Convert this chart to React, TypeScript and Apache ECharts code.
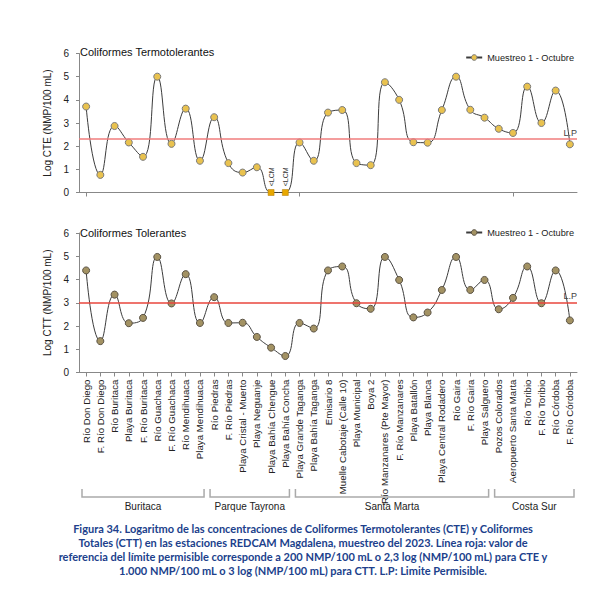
import React, { useEffect, useRef } from "react";
import * as echarts from "echarts";

const categories = [
  "Río Don Diego", "F. Río Don Diego", "Río Buritaca", "Playa Buritaca", "F. Río Buritaca",
  "Río Guachaca", "F. Río Guachaca", "Río Mendihuaca", "Playa Mendihuaca",
  "Río Piedras", "F. Río Piedras", "Playa Cristal - Muerto", "Playa Neguanje",
  "Playa Bahía Chengue", "Playa Bahía Concha",
  "Playa Grande Taganga", "Playa Bahía Taganga", "Emisario 8", "Muelle Cabotaje (Calle 10)",
  "Playa Municipal", "Boya 2", "Río Manzanares (Pte Mayor)", "F. Río Manzanares",
  "Playa Batallón", "Playa Blanca", "Playa Central Rodadero", "Río Gaira", "F. Río Gaira",
  "Playa Salguero",
  "Pozos Colorados", "Aeropuerto Santa Marta", "Río Toribio", "F. Río Toribio",
  "Río Córdoba", "F. Río Córdoba",
];

const cteValues = [
  3.71, 0.76, 2.87, 2.16, 1.54, 5.0, 2.1, 3.62, 1.37,
  3.25, 1.27, 0.86, 1.09, 0, 0,
  2.16, 1.37, 3.45, 3.56, 1.27, 1.18, 4.76, 4.0, 2.17, 2.15, 3.56, 5.0, 3.57, 3.23,
  2.75, 2.57, 4.57, 3.0, 4.4, 2.08,
];

const cttValues = [
  4.39, 1.35, 3.35, 2.12, 2.35, 4.97, 2.97, 4.23, 2.13,
  3.24, 2.13, 2.14, 1.53, 1.07, 0.71,
  2.13, 1.89, 4.39, 4.56, 2.98, 2.74, 4.97, 3.98, 2.37, 2.58, 3.55, 4.97, 3.55, 3.98,
  2.72, 3.21, 4.56, 2.98, 4.39, 2.24,
];

const lcmIndices = [13, 14];

const groupNames = ["Buritaca", "Parque Tayrona", "Santa Marta", "Costa Sur"];
const groupSizes = [9, 6, 14, 6];

const cteLimit = 2.3;
const cttLimit = 3;
const seriesName = "Muestreo 1 - Octubre";

const FONT = "Arial, 'Liberation Sans', sans-serif";
const caption =
  "Figura 34. Logaritmo de las concentraciones de Coliformes Termotolerantes (CTE) y Coliformes\n" +
  "Totales (CTT) en las estaciones REDCAM Magdalena, muestreo del 2023. Línea roja: valor de\n" +
  "referencia del límite permisible corresponde a 200 NMP/100 mL o 2,3 log (NMP/100 mL) para CTE y\n" +
  "1.000 NMP/100 mL o 3 log (NMP/100 mL) para CTT. L.P: Limite Permisible.";

export default function App() {
  const ref = useRef<HTMLDivElement>(null);

  useEffect(() => {
    document.body.style.margin = "0";
    if (!ref.current) return;
    const chart = echarts.init(ref.current, null, { renderer: "svg" });

    const topStyle = { color: "#e9c24f", borderColor: "#7a7a7a", borderWidth: 1 };
    const botStyle = { color: "#a39263", borderColor: "#5a5244", borderWidth: 1 };

    const cteData = cteValues.map((v, i) =>
      lcmIndices.includes(i)
        ? {
            value: v,
            symbol: "rect",
            symbolSize: 6,
            itemStyle: { color: "#e8a800", borderColor: "#b07800", borderWidth: 0.5 },
            label: {
              show: true,
              formatter: "<LCM",
              rotate: 90,
              position: "top",
              distance: 3,
              align: "left",
              verticalAlign: "middle",
              fontSize: 7,
              color: "#333",
              fontFamily: FONT,
            },
          }
        : v
    );

    const yAxisBase = (name: string) => ({
      type: "value",
      min: 0,
      max: 6,
      interval: 1,
      name,
      nameLocation: "middle",
      nameGap: 25,
      nameRotate: 90,
      nameTextStyle: { fontSize: 10, color: "#222", fontFamily: FONT },
      axisLine: { show: true, lineStyle: { color: "#888" } },
      axisTick: { show: true, length: 3, lineStyle: { color: "#888" } },
      axisLabel: { fontSize: 10, color: "#222", margin: 10, fontFamily: FONT },
      splitLine: { show: false },
    });

    const xAxisBase = {
      type: "category",
      data: categories,
      boundaryGap: true,
      axisLine: { show: true, lineStyle: { color: "#888" } },
      axisTick: { show: true, alignWithLabel: true, length: 4, lineStyle: { color: "#888" } },
    };

    const markLine = (v: number, color: string) => ({
      silent: true,
      symbol: "none",
      lineStyle: { color, width: 1.5, type: "solid" },
      label: {
        show: true,
        formatter: "L.P",
        position: "insideEndTop",
        fontSize: 9,
        color: "#444",
        fontFamily: FONT,
        distance: [0, 2],
      },
      data: [{ yAxis: v }],
    });

    chart.setOption({
      animation: false,
      textStyle: { fontFamily: FONT },
      title: [
        {
          text: "Coliformes Termotolerantes",
          left: 75,
          top: 41,
          textStyle: { fontSize: 11, fontWeight: "normal", color: "#111", fontFamily: FONT },
        },
        {
          text: "Coliformes Tolerantes",
          left: 75,
          top: 222,
          textStyle: { fontSize: 11, fontWeight: "normal", color: "#111", fontFamily: FONT },
        },
      ],
      legend: [
        {
          right: 36,
          top: 48,
          itemWidth: 16,
          itemHeight: 7,
          itemGap: 4,
          textStyle: { fontSize: 9.2, color: "#222", fontFamily: FONT },
          data: [{ name: seriesName, itemStyle: topStyle }],
          selectedMode: false,
        },
        {
          right: 36,
          top: 223,
          itemWidth: 16,
          itemHeight: 7,
          itemGap: 4,
          textStyle: { fontSize: 9.2, color: "#222", fontFamily: FONT },
          data: [{ name: seriesName, itemStyle: botStyle }],
          selectedMode: false,
        },
      ],
      grid: [
        { left: 79, width: 498, top: 53.5, height: 139 },
        { left: 79, width: 498, top: 233, height: 139.5 },
      ],
      xAxis: [
        { ...xAxisBase, gridIndex: 0, axisLabel: { show: false } },
        {
          ...xAxisBase,
          gridIndex: 1,
          axisLabel: {
            show: true,
            interval: 0,
            rotate: 90,
            fontSize: 9.7,
            color: "#222",
            margin: 7,
            fontFamily: FONT,
          },
        },
      ],
      yAxis: [
        { ...yAxisBase("Log CTE (NMP/100 mL)"), gridIndex: 0 },
        { ...yAxisBase("Log CTT (NMP/100 mL)"), gridIndex: 1 },
      ],
      series: [
        {
          name: seriesName,
          type: "line",
          xAxisIndex: 0,
          yAxisIndex: 0,
          smooth: 0.5,
          symbol: "circle",
          symbolSize: 7,
          lineStyle: { color: "#3c3c3c", width: 1 },
          itemStyle: topStyle,
          data: cteData,
          markLine: markLine(cteLimit, "#f07c7c"),
        },
        {
          name: seriesName,
          type: "line",
          xAxisIndex: 1,
          yAxisIndex: 1,
          smooth: 0.5,
          symbol: "circle",
          symbolSize: 7,
          lineStyle: { color: "#3c3c3c", width: 1 },
          itemStyle: botStyle,
          data: cttValues,
          markLine: markLine(cttLimit, "#e8463c"),
        },
      ],
    });

    // group brackets below the category labels
    const graphics: any[] = [];
    let start = 0;
    groupNames.forEach((g, gi) => {
      const end = start + groupSizes[gi] - 1;
      const xs = chart.convertToPixel({ xAxisIndex: 1 }, start) as number;
      const xe = chart.convertToPixel({ xAxisIndex: 1 }, end) as number;
      const half = 498 / categories.length / 2;
      const x0 = xs - half + 3;
      const x1 = xe + half - 3;
      graphics.push({
        type: "polyline",
        shape: { points: [[x0, 489], [x0, 497], [x1, 497], [x1, 489]] },
        style: { stroke: "#aaa", lineWidth: 1.5, fill: "none" },
        silent: true,
      });
      graphics.push({
        type: "text",
        x: (x0 + x1) / 2,
        y: 501,
        style: {
          text: g,
          textAlign: "center",
          textVerticalAlign: "top",
          fontSize: 10,
          fill: "#222",
          fontFamily: FONT,
        },
        silent: true,
      });
      start = end + 1;
    });
    graphics.push({
      type: "text",
      x: 303,
      y: 521,
      style: {
        text: caption,
        textAlign: "center",
        textVerticalAlign: "top",
        fontSize: 11,
        fontWeight: "bold",
        lineHeight: 14,
        fill: "#203f8c",
        fontFamily: "Lato, 'Open Sans', sans-serif",
      },
      silent: true,
    });
    chart.setOption({ graphic: graphics });

    return () => chart.dispose();
  }, []);

  return <div ref={ref} style={{ width: 615, height: 604 }} />;
}
